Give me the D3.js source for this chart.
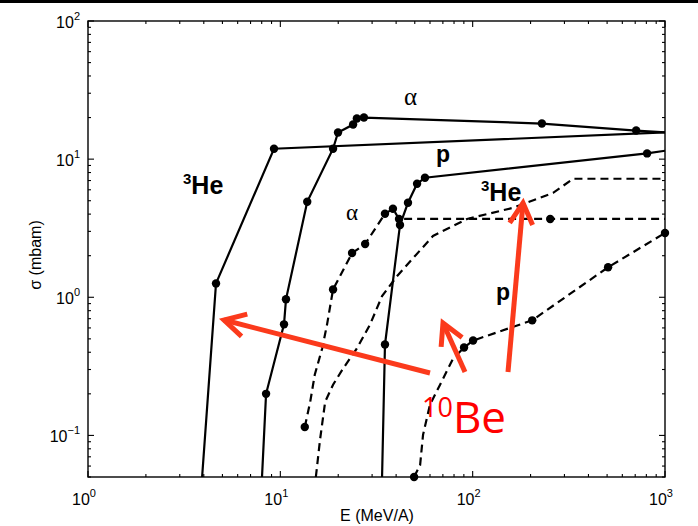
<!DOCTYPE html>
<html><head><meta charset="utf-8">
<script src="https://cdn.jsdelivr.net/npm/d3@7"></script>
<style>body{margin:0;background:#fff;overflow:hidden}</style>
</head><body><svg id="c" width="698" height="526"></svg>
<script>
// ---- data ----
const xTickValues = [1, 10, 100, 1000];
const xTickExp = ["0", "1", "2", "3"];
const yTickValues = [0.1, 1, 10, 100];
const yTickExp = ["\u22121", "0", "1", "2"];

// 3He (solid)
const he3SolidE = [3.92, 4.63, 9.27, 1000];
const he3SolidS = [0.05, 1.26, 11.9, 15.6];
const he3SolidDot = [0, 1, 1, 0];
// alpha (solid)
const alphaSolidE = [8.03, 8.43, 10.45, 10.7, 13.8, 18.8, 19.95, 23.9, 25.0, 27.2, 229, 708, 1000];
const alphaSolidS = [0.05, 0.20, 0.637, 0.967, 4.91, 11.9, 15.6, 17.8, 19.7, 20.0, 18.1, 16.1, 15.6];
const alphaSolidDot = [0, 1, 1, 1, 1, 1, 1, 1, 1, 1, 1, 1, 0];
// p (solid)
const pSolidE = [33.8, 35.0, 41.9, 46.1, 51.4, 56.5, 807, 1000];
const pSolidS = [0.05, 0.455, 3.34, 4.83, 6.64, 7.33, 11.0, 11.5];
const pSolidDot = [0, 1, 1, 1, 1, 1, 1, 0];
// alpha (dashed)
const alphaDashE = [13.4, 14.3, 15.1, 16.5, 17.5, 18.8, 23.6, 27.6, 35.0, 38.5, 41.4, 253, 1000];
const alphaDashS = [0.115, 0.175, 0.275, 0.426, 0.637, 1.14, 2.09, 2.43, 4.02, 4.37, 3.69, 3.69, 3.69];
const alphaDashDot = [1, 0, 0, 0, 0, 1, 1, 1, 1, 1, 1, 1, 0];
// 3He (dashed)
const he3DashE = [15.3, 16.1, 17.1, 18.8, 21.2, 25.0, 29.3, 33.8, 40.4, 49.0, 62.2, 93.5, 162, 262, 333, 1000];
const he3DashS = [0.05, 0.094, 0.175, 0.233, 0.305, 0.426, 0.637, 1.02, 1.42, 1.92, 2.78, 3.69, 4.44, 5.70, 7.21, 7.21];
const he3DashDot = [0, 0, 0, 0, 0, 0, 0, 0, 0, 0, 0, 0, 0, 0, 0, 0];
// p (dashed)
const pDashE = [49.6, 53.3, 55.2, 60.0, 67.7, 79.1, 90.2, 100.5, 204, 506, 1000];
const pDashS = [0.05, 0.061, 0.101, 0.167, 0.233, 0.36, 0.433, 0.486, 0.681, 1.65, 2.92];
const pDashDot = [1, 0, 0, 0, 0, 0, 1, 1, 1, 1, 1];

const series = [
  {E: he3SolidE, S: he3SolidS, D: he3SolidDot, dash: null},
  {E: alphaSolidE, S: alphaSolidS, D: alphaSolidDot, dash: null},
  {E: pSolidE, S: pSolidS, D: pSolidDot, dash: null},
  {E: alphaDashE, S: alphaDashS, D: alphaDashDot, dash: "8,5"},
  {E: he3DashE, S: he3DashS, D: he3DashDot, dash: "8,5"},
  {E: pDashE, S: pDashS, D: pDashDot, dash: "8,5"}
];

// ---- layout ----
const svg = d3.select("#c");
const L = 88, R = 665, T = 21, B = 477;
const x = d3.scaleLog().domain([1, 1000]).range([L, R]);
const y = d3.scaleLog().domain([0.05, 100]).range([B, T]);
const font = "'Liberation Sans', Arial, Helvetica, sans-serif";

// top slide bar
svg.append("rect").attr("x", 0).attr("y", 0).attr("width", 698).attr("height", 3).attr("fill", "#000");

// frame
svg.append("rect").attr("x", L).attr("y", T).attr("width", R - L).attr("height", B - T)
  .attr("fill", "none").attr("stroke", "#000").attr("stroke-width", 1.4);

// ticks (inside, all four sides)
const xMinor = [];
for (let d = 1; d < 1000; d *= 10) for (let k = 2; k <= 9; k++) xMinor.push(d * k);
const yMinor = [];
for (let d = 0.01; d < 100; d *= 10) for (let k = 2; k <= 9; k++) { const v = d * k; if (v >= 0.05 && v <= 100) yMinor.push(v); }
const tg = svg.append("g").attr("stroke", "#000").attr("stroke-width", 1.1);
function xt(v, len) {
  tg.append("line").attr("x1", x(v)).attr("x2", x(v)).attr("y1", B).attr("y2", B - len);
  tg.append("line").attr("x1", x(v)).attr("x2", x(v)).attr("y1", T).attr("y2", T + len);
}
function yt(v, len) {
  tg.append("line").attr("y1", y(v)).attr("y2", y(v)).attr("x1", L).attr("x2", L + len);
  tg.append("line").attr("y1", y(v)).attr("y2", y(v)).attr("x1", R).attr("x2", R - len);
}
xMinor.forEach(v => xt(v, 3));
xTickValues.forEach(v => xt(v, 6));
yMinor.forEach(v => yt(v, 3));
yTickValues.forEach(v => yt(v, 6));

// tick labels
xTickValues.forEach((v, i) => {
  const t = svg.append("text").attr("x", x(v) - 4).attr("y", 505).attr("text-anchor", "middle")
    .attr("font-family", font).attr("font-size", 16).attr("fill", "#000");
  t.append("tspan").text("10");
  t.append("tspan").attr("dy", -8).attr("font-size", 11).text(xTickExp[i]);
});
yTickValues.forEach((v, i) => {
  const t = svg.append("text").attr("x", 80).attr("y", y(v) + 7).attr("text-anchor", "end")
    .attr("font-family", font).attr("font-size", 16).attr("fill", "#000");
  t.append("tspan").text("10");
  t.append("tspan").attr("dy", -8).attr("font-size", 11).text(yTickExp[i]);
});

// axis titles
svg.append("text").attr("x", 377).attr("y", 521).attr("text-anchor", "middle")
  .attr("font-family", font).attr("font-size", 16).text("E (MeV/A)");
svg.append("text").attr("transform", "translate(41,255) rotate(-90)").attr("text-anchor", "middle")
  .attr("font-family", font).attr("font-size", 16).text("\u03c3 (mbam)");

// curves
const line = d3.line().x(d => x(d[0])).y(d => y(d[1]));
series.forEach(s => {
  const pts = s.E.map((e, i) => [e, s.S[i]]);
  svg.append("path").attr("d", line(pts)).attr("fill", "none").attr("stroke", "#000")
    .attr("stroke-width", 2.2).attr("stroke-dasharray", s.dash);
  svg.append("g").selectAll("circle").data(pts.filter((p, i) => s.D[i])).join("circle")
    .attr("cx", d => x(d[0])).attr("cy", d => y(d[1])).attr("r", 4.2).attr("fill", "#000");
});

// curve labels
function lab(xp, yp, txt, bold, size, fam, sup) {
  const t = svg.append("text").attr("x", xp).attr("y", yp).attr("font-family", fam || font)
    .attr("font-size", size).attr("font-weight", bold ? "bold" : "normal").attr("fill", "#000");
  if (sup) { t.append("tspan").attr("font-size", size * 0.6).attr("dy", -size * 0.42).text(sup); t.append("tspan").attr("dy", size * 0.42).text(txt); }
  else t.text(txt);
}
const serif = "'Liberation Serif', 'DejaVu Serif', serif";
lab(404, 105, "\u03b1", false, 25, serif);
lab(346, 220, "\u03b1", false, 23, serif);
lab(183, 194, "He", true, 25, null, "3");
lab(481, 201, "He", true, 25, null, "3");
lab(436, 162, "p", true, 23);
lab(496, 300, "p", true, 23);

// red annotations
const red = "#fb3a1c";
function arrow(x1, y1, x2, y2) {
  const a = Math.atan2(y2 - y1, x2 - x1), h = 24, w = 0.5;
  svg.append("line").attr("x1", x1).attr("y1", y1).attr("x2", x2).attr("y2", y2)
    .attr("stroke", red).attr("stroke-width", 5);
  const p1 = [x2 - h * Math.cos(a - w), y2 - h * Math.sin(a - w)];
  const p2 = [x2 - h * Math.cos(a + w), y2 - h * Math.sin(a + w)];
  svg.append("path").attr("d", `M${p1}L${x2},${y2}L${p2}`).attr("fill", "none")
    .attr("stroke", red).attr("stroke-width", 5).attr("stroke-linejoin", "miter");
}
arrow(430, 373, 224, 320);
arrow(465, 372, 443, 323);
arrow(508, 372, 523, 203);
const be = svg.append("text").attr("x", 422).attr("y", 433).attr("font-family", "'Open Sans', 'Liberation Sans', sans-serif")
  .attr("fill", "#ff0000");
be.append("tspan").attr("font-size", 27).attr("dy", -16).text("10");
be.append("tspan").attr("font-size", 44).attr("dy", 16).text("Be");
</script></body></html>
